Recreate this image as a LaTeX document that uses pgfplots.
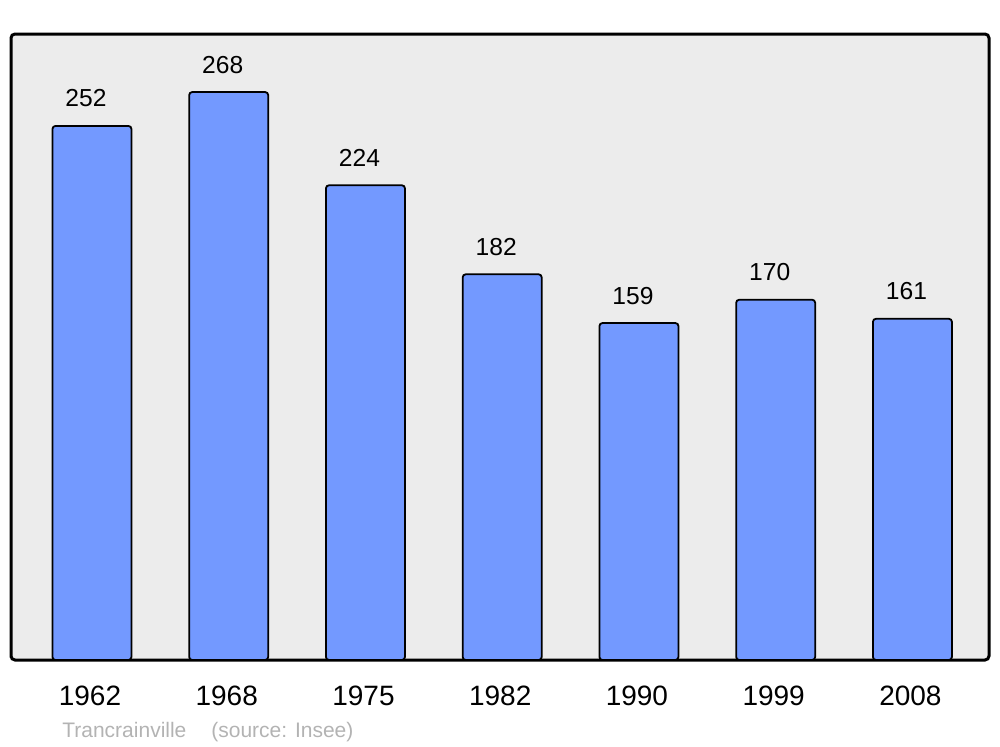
\documentclass[border=0pt]{standalone}
\usepackage{pgfplots}
\pgfplotsset{compat=1.18}
\usepackage{fontspec}
\setmainfont{Liberation Sans}
\definecolor{barblue}{HTML}{7399FF}
\definecolor{bggray}{HTML}{ECECEC}
\definecolor{srcgray}{HTML}{B3B3B3}
\begin{document}
\begin{tikzpicture}
\begin{axis}[
  scale only axis,
  width=489pt, height=313pt,
  xmin=-0.592, xmax=6.56,
  ymin=0, ymax=295.4,
  axis background/.style={fill=bggray, rounded corners=2pt},
  axis line style={line width=1.5pt, rounded corners=2pt},
  ytick=\empty,
  xtick={0,1,2,3,4,5,6},
  xticklabels={1962,1968,1975,1982,1990,1999,2008},
  major tick length=0pt,
  xticklabel style={font=\fontsize{14pt}{16pt}\selectfont, anchor=base, yshift=-22.5pt, xshift=-1pt},
  /pgf/number format/assume math mode=true,
  ybar, bar width=39.5pt,
  nodes near coords,
  every node near coord/.append style={font=\fontsize{12.3pt}{14pt}\selectfont, anchor=base, yshift=9.5pt, xshift=-3pt},
  clip=false,
]
\addplot[fill=barblue, draw=black, line width=0.9pt, rounded corners=1.5pt] coordinates {
(0,252) (1,268) (2,224) (3,182) (4,159) (5,170) (6,161)};
\node[anchor=base west, text=srcgray, font=\fontsize{10.5pt}{12pt}\selectfont, inner sep=0pt]
  at ([yshift=-38.5pt]rel axis cs:0.0521,0) {Trancrainville\hspace{12.5pt}(source: Insee)};
\end{axis}
\useasboundingbox ([shift={(-5.5pt,-43.5pt)}]current axis.south west) rectangle ([shift={(5.5pt,17pt)}]current axis.north east);
\end{tikzpicture}
\end{document}
